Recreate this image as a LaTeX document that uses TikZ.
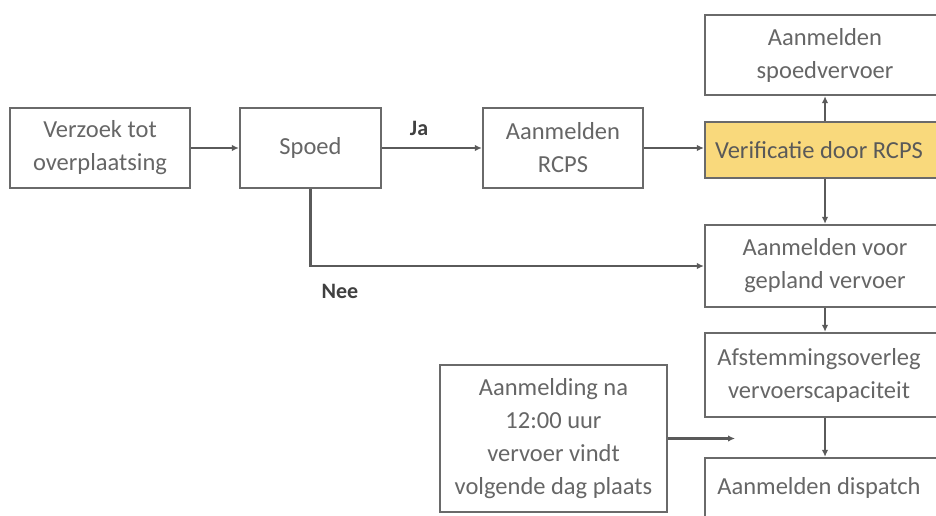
\documentclass[tikz,border=0pt]{standalone}
\usepackage{fontspec}
\setmainfont{Carlito}
\usetikzlibrary{arrows.meta}
\definecolor{boxline}{HTML}{6A6A6A}
\definecolor{txt}{HTML}{666666}
\definecolor{yel}{HTML}{F9D97C}
\begin{document}
\begin{tikzpicture}[x=1pt,y=-1pt,
  bx/.style={draw=boxline,line width=2.3pt,fill=white,inner sep=0pt,align=center,text=txt,
    font=\fontsize{24.5}{33}\selectfont},
  con/.style={draw=boxline!85!black,line width=2.2pt,-{Latex[length=7pt,width=6.5pt]}},
  lbl/.style={font=\fontsize{22}{26}\selectfont\bfseries,text=black!75}]
\useasboundingbox (0,0) rectangle (936,516);
\clip (0,0) rectangle (936,516);
\node[bx,minimum width=180pt,minimum height=80pt] (verzoek) at (100,148) {Verzoek tot\\overplaatsing};
\node[bx,minimum width=141pt,minimum height=80pt] (spoed) at (310.5,148) {Spoed};
\node[bx,minimum width=160pt,minimum height=80pt] (rcps) at (563,148) {Aanmelden\\RCPS};
\node[bx,minimum width=240pt,minimum height=80pt] (spoedv) at (825,55) {Aanmelden\\spoedvervoer};
\node[bx,fill=yel,text=black!65,minimum width=240pt,minimum height=56pt] (verif) at (825,150) {\hspace*{-12pt}Verificatie door RCPS};
\node[bx,minimum width=240pt,minimum height=82pt] (gepland) at (825,266) {Aanmelden voor\\gepland vervoer};
\node[bx,minimum width=240pt,minimum height=84pt] (afstem) at (825,375) {\hspace*{-12pt}Afstemmingsoverleg\\\hspace*{-12pt}vervoerscapaciteit};
\node[bx,minimum width=240pt,minimum height=60pt] (dispatch) at (825,488) {\hspace*{-12pt}Aanmelden dispatch};
\node[bx,minimum width=227pt,minimum height=147pt] (aanm) at (553.5,438.5) {Aanmelding na\\12:00 uur\\vervoer vindt\\volgende dag plaats};
\coordinate (free) at (735,438.5);
\draw[con] (verzoek.east) -- (spoed.west);
\draw[con] (spoed.east) -- node[lbl,above=8pt,pos=0.37] (ja) {Ja} (rcps.west);
\draw[con] (rcps.east) -- (rcps.east -| verif.west);
\draw[con] (verif.north) -- (spoedv.south);
\draw[con] (verif.south) -- (gepland.north);
\draw[con] (spoed.south) |- (gepland.west);
\node[lbl] (nee) at (340,291) {Nee};
\draw[con] (gepland.south) -- (afstem.north);
\draw[con] (afstem.south) -- (dispatch.north);
\draw[con] (aanm.east) -- (free);
\end{tikzpicture}
\end{document}
